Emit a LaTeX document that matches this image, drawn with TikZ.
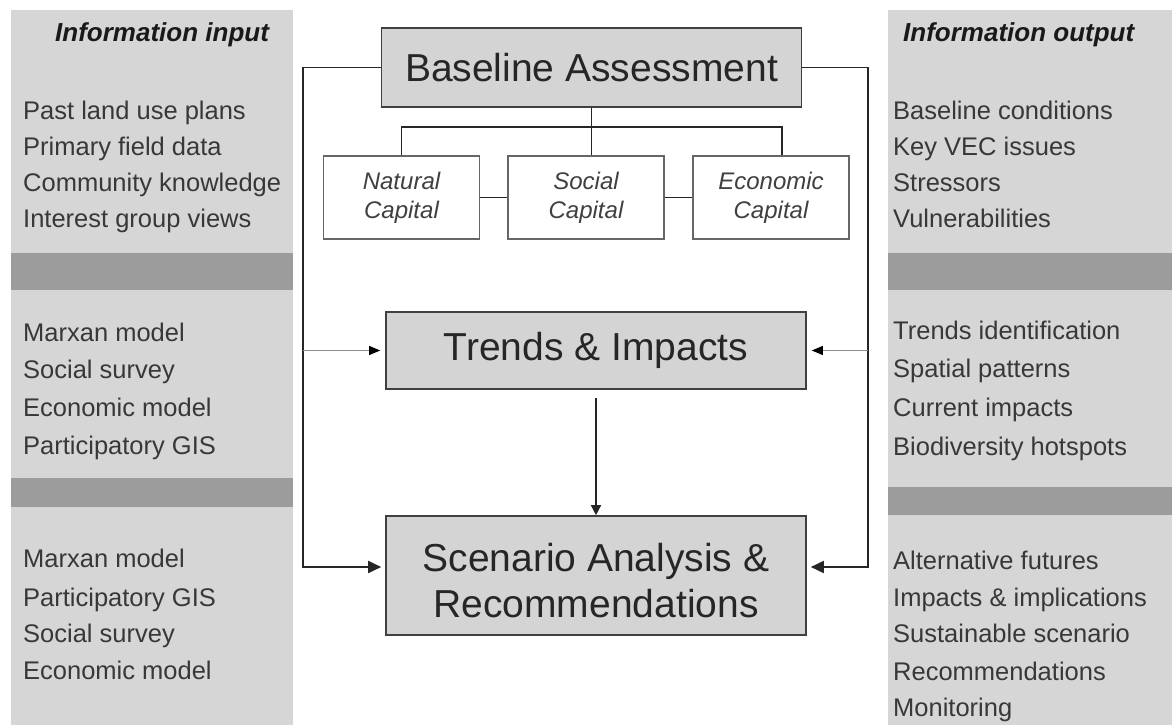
\documentclass[tikz,border=0pt]{standalone}
\usepackage{fontspec}
\setmainfont{Liberation Sans}
\usetikzlibrary{arrows.meta}

\definecolor{panelgray}{gray}{0.84}
\definecolor{bandgray}{gray}{0.61}
\definecolor{boxgray}{gray}{0.83}
\definecolor{txtgray}{gray}{0.22}

\tikzset{
  stage/.style={draw=black!75, line width=1.6pt, fill=boxgray, minimum width=420pt,
    inner sep=0pt, align=center, text=black!85, font=\fontsize{39}{46}\selectfont},
  capital/.style={draw=black!60, line width=1.3pt, fill=white, minimum width=156pt,
    minimum height=83pt, inner sep=0pt, align=center, text=black!75,
    font=\fontsize{24}{29}\selectfont\itshape},
  item/.style={anchor=base west, inner sep=0pt, text=txtgray, font=\fontsize{25.5}{30}\selectfont},
  heading/.style={anchor=base west, inner sep=0pt, text=black!90,
    font=\fontsize{26}{30}\selectfont\bfseries\itshape},
  link/.style={line width=1.6pt, black!85},
  feed/.style={line width=1.8pt, black!85, -{Triangle[length=13pt,width=12pt]}, shorten >=4pt},
  thinfeed/.style={line width=1pt, black!45, -{Triangle[length=11pt,width=9pt,color=black]}, shorten >=5pt},
  down/.style={line width=1.5pt, black!85, -{Triangle[length=10pt,width=10pt]}, shorten <=8pt},
}

\begin{document}
\begin{tikzpicture}[x=1pt,y=1pt]
\useasboundingbox (0,0) rectangle (1172,725);

% side panels
\fill[panelgray] (11,0) rectangle (293,715);
\fill[panelgray] (888,0) rectangle (1172,715);
\fill[bandgray] (11,435) rectangle (293,472);
\fill[bandgray] (11,218) rectangle (293,247);
\fill[bandgray] (888,435) rectangle (1172,472);
\fill[bandgray] (888,210) rectangle (1172,238);

% stages
\node[stage, minimum height=79pt] (base) at (591.5,657.5) {Baseline Assessment};
\node[stage, minimum height=77pt] (trends) at (596,374.5) {Trends \& Impacts};
\node[stage, minimum height=119pt] (scen) at (596,149.5)
  {\rule{0pt}{39pt}Scenario Analysis \&\\Recommendations};

% capitals
\node[capital] (natural) at (401.5,527.5) {Natural\\Capital};
\node[capital] (social) at (586,527.5) {Social\\Capital};
\node[capital] (economic) at (771,527.5) {Economic\\Capital};

\coordinate (bus) at (592,598);
\draw[link] (base.south) -- (base.south |- social.north);
\draw[link] (natural.north) |- (bus) -| ([xshift=11pt]economic.north);
\draw[link] (natural) -- (social);
\draw[link] (social) -- (economic);

% feedback lines
\coordinate (lcorner) at (303,657.5);
\coordinate (rcorner) at (868,657.5);
\draw[feed] (base.west) -- (lcorner) |- ([yshift=8.5pt]scen.west);
\draw[feed] (base.east) -- (rcorner) |- ([yshift=8.5pt]scen.east);
\draw[thinfeed] (lcorner |- trends.west) -- (trends.west);
\draw[thinfeed] (rcorner |- trends.east) -- (trends.east);
\draw[down] (trends.south) -- (scen.north);

% information input
\node[heading] (inhead) at (55,683) {Information input};
\foreach \txt/\y [count=\i] in {Past land use plans/605, Primary field data/569,
    Community knowledge/533, Interest group views/497}
  \node[item] (in1-\i) at (23,\y) {\txt};
\foreach \txt/\y [count=\i] in {Marxan model/383, Social survey/346,
    Economic model/308, Participatory GIS/270}
  \node[item] (in2-\i) at (23,\y) {\txt};
\foreach \txt/\y [count=\i] in {Marxan model/157, Participatory GIS/118,
    Social survey/82, Economic model/45}
  \node[item] (in3-\i) at (23,\y) {\txt};

% information output
\node[heading] (outhead) at (903,683) {Information output};
\foreach \txt/\y [count=\i] in {Baseline conditions/605, Key VEC issues/569,
    Stressors/533, Vulnerabilities/497}
  \node[item] (out1-\i) at (893,\y) {\txt};
\foreach \txt/\y [count=\i] in {Trends identification/385, Spatial patterns/347,
    Current impacts/308, Biodiversity hotspots/269}
  \node[item] (out2-\i) at (893,\y) {\txt};
\foreach \txt/\y [count=\i] in {Alternative futures/155, Impacts \& implications/118,
    Sustainable scenario/82, Recommendations/44, Monitoring/8}
  \node[item] (out3-\i) at (893,\y) {\txt};

\end{tikzpicture}
\end{document}
